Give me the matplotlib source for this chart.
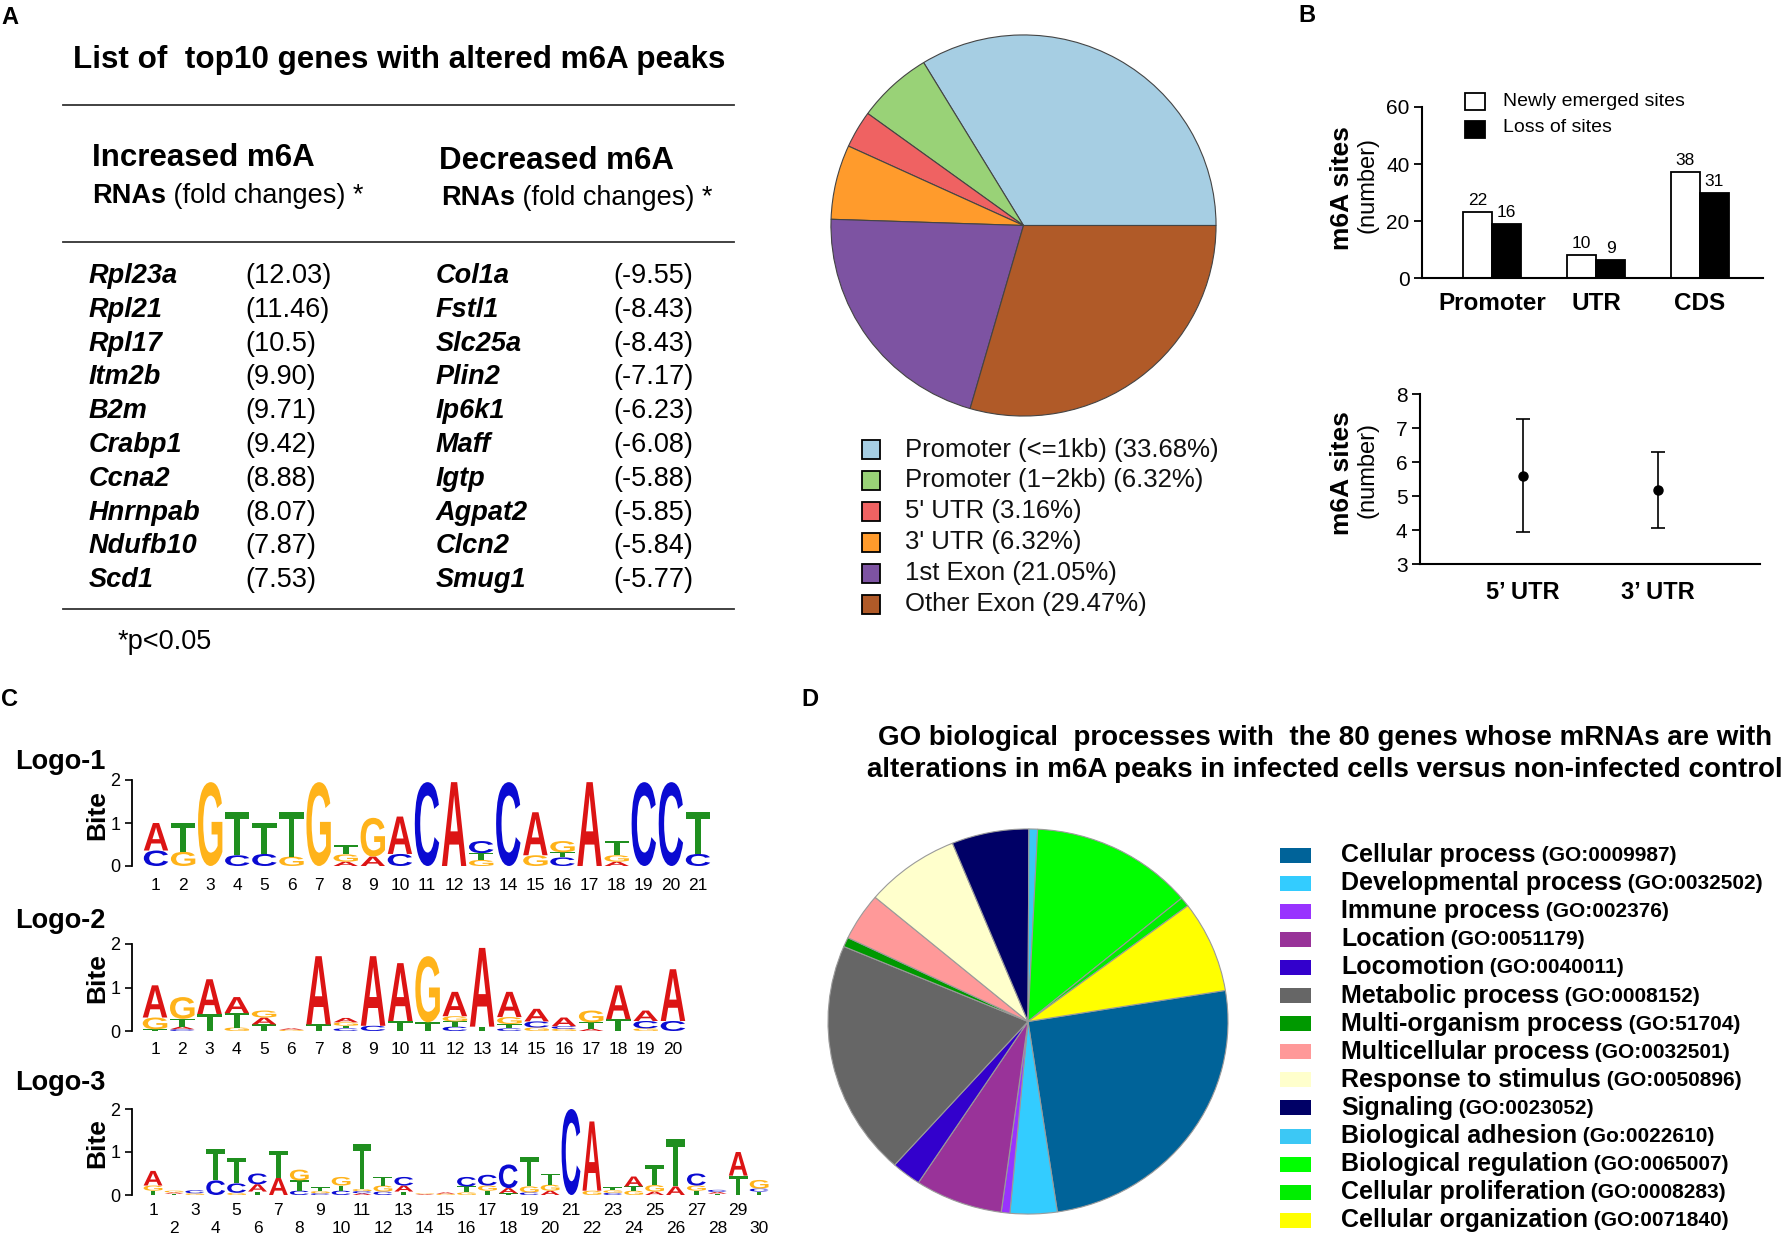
import numpy as np
import matplotlib
matplotlib.use('Agg')
import matplotlib.pyplot as plt
from matplotlib.textpath import TextPath
from matplotlib.patches import PathPatch, Rectangle
from matplotlib.font_manager import FontProperties
from matplotlib.transforms import Affine2D

plt.rcParams['font.family'] = ['Liberation Sans', 'DejaVu Sans']

# ---------------- data ----------------
table_title = "List of  top10 genes with altered m6A peaks"
inc_genes = ["Rpl23a", "Rpl21", "Rpl17", "Itm2b", "B2m", "Crabp1", "Ccna2", "Hnrnpab", "Ndufb10", "Scd1"]
inc_fold = ["12.03", "11.46", "10.5", "9.90", "9.71", "9.42", "8.88", "8.07", "7.87", "7.53"]
dec_genes = ["Col1a", "Fstl1", "Slc25a", "Plin2", "Ip6k1", "Maff", "Igtp", "Agpat2", "Clcn2", "Smug1"]
dec_fold = ["-9.55", "-8.43", "-8.43", "-7.17", "-6.23", "-6.08", "-5.88", "-5.85", "-5.84", "-5.77"]

region_labels = ["Promoter (<=1kb)", "Promoter (1\u22122kb)", "5' UTR", "3' UTR", "1st Exon", "Other Exon"]
region_pct = [33.68, 6.32, 3.16, 6.32, 21.05, 29.47]
region_colors = ["#A6CEE3", "#99D277", "#EF6262", "#FF9B2C", "#7D53A2", "#B05A28"]

site_groups = ["Promoter", "UTR", "CDS"]
new_sites = [23.0, 8.1, 37.3]
lost_sites = [18.8, 6.2, 29.9]
new_labels = ["22", "10", "38"]
lost_labels = ["16", "9", "31"]

utr_groups = ["5\u2019 UTR", "3\u2019 UTR"]
utr_mean = [5.6, 5.17]
utr_err = [1.66, 1.11]

# sequence logos: per position, stacked (base, bits) from bottom to top
logo1 = [
    [("C", 0.36), ("A", 0.64)], [("G", 0.33), ("T", 0.67)], [("G", 1.95)],
    [("C", 0.25), ("T", 1.00)], [("C", 0.28), ("T", 0.72)], [("G", 0.22), ("T", 1.03)],
    [("G", 1.95)], [("A", 0.10), ("G", 0.17), ("T", 0.21)], [("A", 0.22), ("G", 0.90)],
    [("C", 0.28), ("A", 0.87)], [("C", 1.95)], [("A", 1.95)],
    [("G", 0.14), ("T", 0.16), ("C", 0.28)], [("C", 1.95)], [("G", 0.25), ("A", 1.00)],
    [("C", 0.20), ("T", 0.12), ("G", 0.26)], [("A", 1.95)], [("A", 0.10), ("G", 0.15), ("T", 0.33)],
    [("C", 1.95)], [("C", 1.95)], [("C", 0.28), ("T", 0.97)],
]
logo2 = [
    [("T", 0.04), ("G", 0.27), ("A", 0.74)], [("C", 0.04), ("A", 0.06), ("T", 0.18), ("G", 0.50)],
    [("T", 0.39), ("A", 0.80)], [("G", 0.08), ("T", 0.33), ("A", 0.37)],
    [("T", 0.15), ("A", 0.16), ("G", 0.16)], [("G", 0.03), ("A", 0.03)],
    [("T", 0.15), ("A", 1.57)], [("C", 0.06), ("T", 0.06), ("G", 0.08), ("A", 0.10)],
    [("C", 0.12), ("A", 1.60)], [("T", 0.23), ("A", 1.33)], [("T", 0.20), ("G", 1.52)],
    [("C", 0.10), ("T", 0.12), ("G", 0.12), ("A", 0.56)], [("T", 0.10), ("A", 1.81)],
    [("C", 0.06), ("T", 0.10), ("G", 0.16), ("A", 0.58)], [("G", 0.08), ("C", 0.14), ("A", 0.29)],
    [("G", 0.05), ("C", 0.06), ("A", 0.20)], [("A", 0.05), ("T", 0.15), ("G", 0.27)],
    [("T", 0.27), ("A", 0.78)], [("G", 0.06), ("C", 0.17), ("A", 0.24)], [("C", 0.23), ("A", 1.19)],
]
logo3 = [
    [("T", 0.10), ("G", 0.12), ("A", 0.34)], [("T", 0.03), ("A", 0.03), ("G", 0.04)],
    [("G", 0.04), ("C", 0.07)], [("C", 0.34), ("T", 0.72)], [("G", 0.05), ("C", 0.22), ("T", 0.59)],
    [("T", 0.08), ("A", 0.17), ("C", 0.25)], [("A", 0.40), ("T", 0.62)],
    [("C", 0.10), ("T", 0.24), ("G", 0.25)], [("C", 0.04), ("G", 0.05), ("T", 0.09)],
    [("C", 0.10), ("T", 0.12), ("G", 0.20)], [("A", 0.04), ("C", 0.05), ("G", 0.05), ("T", 1.04)],
    [("C", 0.08), ("G", 0.14), ("T", 0.20)], [("T", 0.08), ("A", 0.14), ("C", 0.20)],
    [("A", 0.02), ("G", 0.02)], [("G", 0.03), ("A", 0.03)], [("G", 0.06), ("T", 0.14), ("C", 0.22)],
    [("T", 0.10), ("G", 0.12), ("C", 0.25)], [("T", 0.04), ("A", 0.12), ("C", 0.55)],
    [("C", 0.06), ("G", 0.14), ("T", 0.69)], [("A", 0.10), ("G", 0.14), ("T", 0.26)],
    [("C", 2.00)], [("G", 0.10), ("A", 1.61)], [("C", 0.05), ("G", 0.06), ("T", 0.07)],
    [("G", 0.10), ("T", 0.10), ("A", 0.23)], [("A", 0.08), ("G", 0.15), ("T", 0.46)],
    [("A", 0.20), ("T", 1.10)], [("T", 0.10), ("G", 0.12), ("C", 0.28)],
    [("T", 0.03), ("A", 0.04), ("C", 0.05)], [("T", 0.45), ("A", 0.55)],
    [("T", 0.08), ("C", 0.07), ("G", 0.20)],
]
base_colors = {"A": "#DC1414", "C": "#0A0AD2", "G": "#FFB31A", "T": "#1F8F1F"}

go_title = ["GO biological  processes with  the 80 genes whose mRNAs are with",
            "alterations in m6A peaks in infected cells versus non-infected control"]
go_names = ["Cellular process", "Developmental process", "Immune process", "Location", "Locomotion",
            "Metabolic process", "Multi-organism process", "Multicellular process",
            "Response to stimulus", "Signaling", "Biological adhesion", "Biological regulation",
            "Cellular proliferation", "Cellular organization"]
go_ids = ["(GO:0009987)", "(GO:0032502)", "(GO:002376)", "(GO:0051179)", "(GO:0040011)",
          "(GO:0008152)", "(GO:51704)", "(GO:0032501)", "(GO:0050896)", "(GO:0023052)",
          "(Go:0022610)", "(GO:0065007)", "(GO:0008283)", "(GO:0071840)"]
go_pct = [25.3, 3.8, 0.7, 7.1, 2.4, 19.8, 0.8, 4.0, 7.7, 6.25, 0.7, 13.2, 0.8, 7.7]
go_colors = ["#006399", "#33CCFF", "#9933FF", "#993399", "#3300CC", "#666666", "#009900",
             "#FF9999", "#FFFFCC", "#000066", "#3CC8F5", "#00FF00", "#00EE00", "#FFFF00"]

# ---------------- figure ----------------
W, H = 1787, 1236
fig = plt.figure(figsize=(W / 100, H / 100), dpi=100)


def box(l, t, r, b):
    return [l / W, 1 - b / H, (r - l) / W, (b - t) / H]


bg = fig.add_axes([0, 0, 1, 1])
bg.set_xlim(0, W)
bg.set_ylim(H, 0)
bg.axis('off')

# panel letters
for lab, (px, py) in zip("ABCD", [(1, 17), (1298, 15), (1, 699), (801, 699)]):
    bg.text(px, py, lab, fontsize=17, fontweight='bold', va='center', ha='left')

# ---------- Panel A table ----------
bg.text(73, 60, table_title, fontsize=22.6, fontweight='bold', va='center', ha='left')
for yy in [105, 242, 609]:
    bg.plot([63, 734], [yy, yy], color='#333333', lw=1.3)
bg.text(92, 158, "Increased m6A", fontsize=22.5, fontweight='bold', va='center')
bg.text(439, 161, "Decreased m6A", fontsize=22.5, fontweight='bold', va='center')
for xx, yy in [(92, 196), (441, 198)]:
    t1 = bg.text(xx, yy, "RNAs", fontsize=19.5, fontweight='bold', va='center')
    bg.annotate(" (fold changes) *", xy=(1, 0), xycoords=t1, va='bottom', ha='left', fontsize=19.5)

row_y0, row_dy = 276, 33.8
for i in range(len(inc_genes)):
    yy = row_y0 + i * row_dy
    bg.text(89, yy, inc_genes[i], fontsize=19.5, fontweight='bold', fontstyle='italic', va='center')
    bg.text(245, yy, "(" + inc_fold[i] + ")", fontsize=19.5, va='center')
    bg.text(436, yy, dec_genes[i], fontsize=19.5, fontweight='bold', fontstyle='italic', va='center')
    bg.text(613, yy, "(" + dec_fold[i] + ")", fontsize=19.5, va='center')
bg.text(118, 642, "*p<0.05", fontsize=19.5, va='center')

# ---------- Panel A pie ----------
axp = fig.add_axes(box(830, 34, 1217, 417))
axp.pie(region_pct, colors=region_colors, startangle=0, counterclock=True,
        wedgeprops=dict(edgecolor='#444444', linewidth=0.8))
axp.set_aspect('auto')
axp.set_xlim(-1.005, 1.005)
axp.set_ylim(-1.005, 1.005)
axp.axis('off')

for i, lab in enumerate(region_labels):
    yy = 449.5 + i * 30.9
    bg.add_patch(Rectangle((862, yy - 9.5), 18, 19, facecolor=region_colors[i],
                           edgecolor='black', lw=1.3))
    bg.text(905, yy, f"{lab} ({region_pct[i]:.2f}%)", fontsize=18.5, va='center', color='#111111')

# ---------- Panel B bars ----------
axb = fig.add_axes(box(1422, 107, 1763, 278))
xb = np.arange(len(site_groups))
bw = 0.28
axb.bar(xb - bw / 2, new_sites, bw, color='white', edgecolor='black', linewidth=1.3)
axb.bar(xb + bw / 2, lost_sites, bw, color='black', edgecolor='black', linewidth=1.3)
for i in range(len(site_groups)):
    axb.annotate(new_labels[i], (xb[i] - bw / 2, new_sites[i]), xytext=(0, 3), textcoords='offset points',
                 ha='center', va='bottom', fontsize=12.5)
    axb.annotate(lost_labels[i], (xb[i] + bw / 2, lost_sites[i]), xytext=(0, 3), textcoords='offset points',
                 ha='center', va='bottom', fontsize=12.5)
axb.set_xlim(-0.673, 2.606)
axb.set_ylim(0, 60)
for s in ['top', 'right']:
    axb.spines[s].set_visible(False)
for s in ['left', 'bottom']:
    axb.spines[s].set_linewidth(1.5)
axb.spines['left'].set_bounds(0, 60)
axb.set_yticks([0, 20, 40, 60])
axb.tick_params(axis='y', labelsize=15, length=6, width=1.3, pad=3)
axb.set_xticks(xb, site_groups, fontweight='bold')
axb.tick_params(axis='x', length=0, labelsize=17.5, pad=10)
axb.patch.set_alpha(0)

bg.add_patch(Rectangle((1465, 93), 20, 17, facecolor='white', edgecolor='black', lw=1.3))
bg.add_patch(Rectangle((1465, 121), 20, 17, facecolor='black', edgecolor='black', lw=1.3))
bg.text(1503, 101, "Newly emerged sites", fontsize=14, va='center')
bg.text(1503, 128, "Loss of sites", fontsize=14, va='center')

for cy in [188, 473]:
    bg.text(1342, cy, "m6A sites", fontsize=19, fontweight='bold', rotation=90, ha='center', va='center')
    bg.text(1368, cy - 3, "(number)", fontsize=17, rotation=90, ha='center', va='center')

# ---------- Panel B error plot ----------
axe = fig.add_axes(box(1420, 394, 1760, 564))
xe = np.arange(len(utr_groups))
axe.errorbar(xe, utr_mean, yerr=utr_err, fmt='o', color='black', ms=6.5, capsize=5,
             elinewidth=1.2, capthick=1.2)
axe.set_xlim(-0.763, 1.756)
axe.set_ylim(3, 8)
for s in ['top', 'right']:
    axe.spines[s].set_visible(False)
for s in ['left', 'bottom']:
    axe.spines[s].set_linewidth(1.5)
axe.set_yticks([3, 4, 5, 6, 7, 8])
axe.tick_params(axis='y', labelsize=15, length=6, width=1.3, pad=3)
axe.set_xticks(xe, utr_groups, fontweight='bold')
axe.tick_params(axis='x', length=0, labelsize=17, pad=12)
axe.patch.set_alpha(0)

# ---------- Panel C logos ----------
LOGO_FP = FontProperties(family='Liberation Sans', weight='bold')


def draw_letter(ax, ch, x, y0, h, w):
    tp = TextPath((0, 0), ch, size=1, prop=LOGO_FP)
    ext = tp.get_extents()
    tr = Affine2D().translate(-ext.x0, -ext.y0).scale(w / ext.width, h / ext.height).translate(x - w / 2, y0)
    ax.add_patch(PathPatch(tr.transform_path(tp), facecolor=base_colors[ch], edgecolor='none',
                           clip_on=False))


def logo(data, spine_px, y0_px, y2_px, pos1_px, step_px, right_px, pad, two_rows, width_frac):
    a = 1 - (pos1_px - spine_px) / step_px
    b = 1 + (right_px - pos1_px) / step_px
    ax = fig.add_axes(box(spine_px, y2_px, right_px, y0_px))
    ax.set_xlim(a, b)
    ax.set_ylim(0, 2)
    for i, stack in enumerate(data):
        y = 0.0
        for ch, h in stack:
            draw_letter(ax, ch, i + 1, y, h, width_frac)
            y += h
    for s in ['top', 'right', 'bottom']:
        ax.spines[s].set_visible(False)
    ax.spines['left'].set_bounds(0, 2)
    ax.spines['left'].set_linewidth(1.3)
    ax.set_yticks([0, 1, 2])
    ax.tick_params(axis='y', labelsize=13, length=5, width=1.2, pad=3)
    pos = np.arange(1, len(data) + 1)
    if two_rows:
        labs = [str(p) if p % 2 == 1 else "\n" + str(p) for p in pos]
    else:
        labs = [str(p) for p in pos]
    ax.set_xticks(pos, labs)
    ax.tick_params(axis='x', length=0, labelsize=12.5, pad=pad)
    ax.patch.set_alpha(0)
    return ax


logo(logo1, 131.7, 866, 780, 156, 27.1, 715, 9, False, 0.9)
logo(logo2, 131.7, 1031, 944, 155, 27.26, 700, 8, False, 0.9)
logo(logo3, 131.7, 1195, 1109, 153, 20.9, 775, 6, True, 0.9)

for ty, txt in [(762, "Logo-1"), (921, "Logo-2"), (1083, "Logo-3")]:
    bg.text(15, ty, txt, fontsize=19.5, fontweight='bold', va='center')
for cy in [815, 978, 1143]:
    bg.text(97, cy, "Bite", fontsize=19, fontweight='bold', rotation=90, ha='center', va='center')

# ---------- Panel D ----------
bg.text(1325, 738, go_title[0], fontsize=20, fontweight='bold', ha='center', va='center')
bg.text(1325, 770, go_title[1], fontsize=20, fontweight='bold', ha='center', va='center')

axd = fig.add_axes(box(827, 828, 1229, 1215))
axd.pie(go_pct, colors=go_colors, startangle=9.3, counterclock=False,
        wedgeprops=dict(edgecolor='#9a9a9a', linewidth=0.8))
axd.set_aspect('auto')
axd.set_xlim(-1.005, 1.005)
axd.set_ylim(-1.005, 1.005)
axd.axis('off')

for i, name in enumerate(go_names):
    yy = 855 + i * 28.1
    bg.add_patch(Rectangle((1280, yy - 7.5), 31, 15, facecolor=go_colors[i], edgecolor='none'))
    t1 = bg.text(1341, yy, name, fontsize=18, fontweight='bold', va='center')
    bg.annotate(" " + go_ids[i], xy=(1, 0.08), xycoords=t1, va='bottom', ha='left',
                fontsize=15, fontweight='bold')

fig.savefig("out.png", dpi=100)
